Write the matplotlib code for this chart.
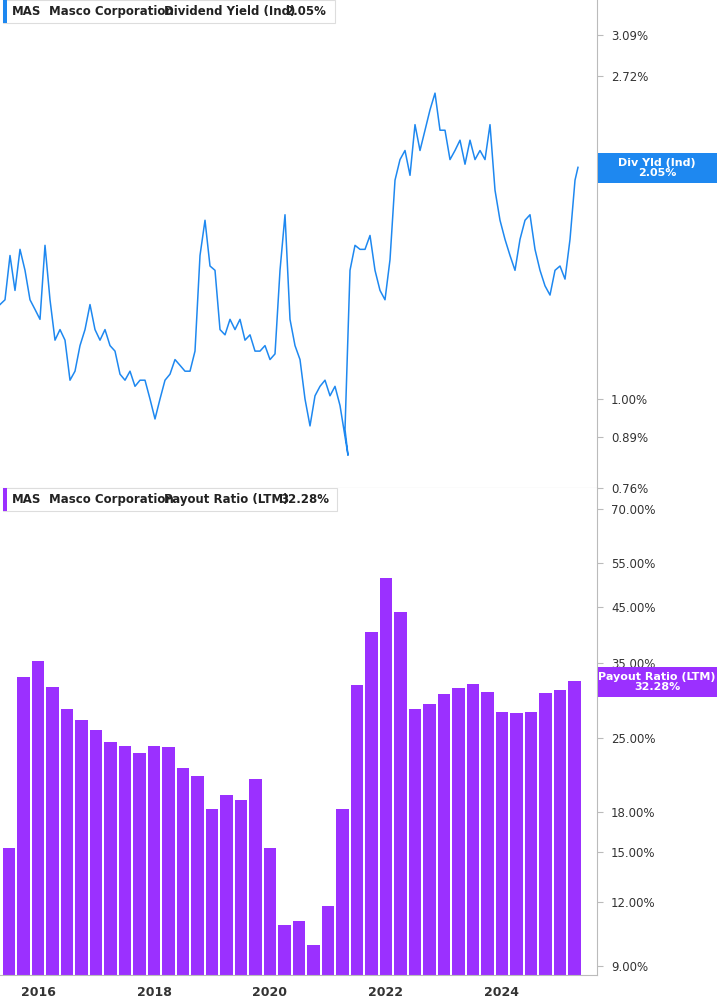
import matplotlib
matplotlib.use("Agg")
import matplotlib.pyplot as plt
import numpy as np

# Dividend yield (%) sampled along time
yld_x = [2015.345 + 5*i/58 for i in range(116)] + [2025.31]
yld_v = [1.34,1.36,1.56,1.40,1.59,1.49,1.36,1.32,1.28,1.61,1.36,1.20,1.24,1.20,1.06,1.09,1.18,1.24,1.34,1.24,
         1.20,1.24,1.18,1.16,1.08,1.06,1.09,1.04,1.06,1.06,1.00,0.94,1.00,1.06,1.08,1.13,1.11,1.09,1.09,1.16,
         1.56,1.74,1.51,1.49,1.24,1.22,1.28,1.24,1.28,1.20,1.22,1.16,1.16,1.18,1.13,1.15,1.49,1.77,1.28,1.18,
         1.13,1.00,0.92,1.01,1.04,1.06,1.01,1.04,0.98,0.91,1.49,1.61,1.59,1.59,1.66,1.49,1.40,1.36,1.54,1.97,
         2.10,2.16,2.00,2.34,2.16,2.30,2.45,2.58,2.30,2.30,2.10,2.16,2.23,2.07,2.23,2.10,2.16,2.10,2.34,1.91,
         1.74,1.64,1.56,1.49,1.64,1.74,1.77,1.59,1.49,1.42,1.38,1.49,1.51,1.45,1.64,1.97,2.05]
yld_v = yld_v[:69] + [0.84] + yld_v[69:]
yld_x = yld_x[:69] + [2015.345 + 348/58] + yld_x[69:]
yld_x = yld_x[:len(yld_v)]

# Payout ratio (%) quarterly
pay_x = [2015.5 + 0.25*i for i in range(40)]
pay_v = [15.3,32.9,35.4,31.5,28.5,27.2,26.0,24.6,24.2,23.4,24.2,24.0,21.9,21.1,18.2,19.4,19.0,20.8,15.3,10.8,
         11.0,9.9,11.8,18.2,31.8,40.3,51.4,44.1,28.5,29.2,30.5,31.4,31.9,30.8,28.2,28.0,28.1,30.7,31.0,32.28]

top_ticks = [0.76,0.89,1.00,2.00,2.72,3.09]
bot_ticks = [9,12,15,18,25,35,45,55,70]
years = [2016,2018,2020,2022,2024]

BLUE = "#1E88F0"
PURP = "#9B30FF"
W, H = 717, 1005
fig = plt.figure(figsize=(W/100, H/100), dpi=100)
x0, x1 = 2015.345, 2025.638
axw = 597/W
ax1 = fig.add_axes([0, 1-488/H, axw, 488/H])
ax2 = fig.add_axes([0, 1-975/H, axw, 487/H])

def setup(ax, ticks, fmt, ylo, yhi):
    ax.set_yscale("log")
    ax.set_ylim(ylo, yhi)
    ax.set_xlim(x0, x1)
    ax.yaxis.tick_right()
    ax.set_yticks(ticks)
    ax.set_yticklabels([fmt % t for t in ticks], fontsize=8.5, color="#333333")
    ax.minorticks_off()
    ax.tick_params(axis="y", length=4, color="#bbbbbb", pad=6)
    for s in ["left", "top"]:
        ax.spines[s].set_visible(False)
    ax.spines["right"].set_color("#bbbbbb")
    ax.spines["bottom"].set_color("#bbbbbb")

ylo1 = 1.0*np.exp(-(488-399)/322.7); yhi1 = 1.0*np.exp(399/322.7)
setup(ax1, top_ticks, "%.2f%%", ylo1, yhi1)
ax1.plot(yld_x, yld_v, color=BLUE, lw=1.1)
ax1.set_xticks([])

ylo2 = 70*np.exp(-(975-509)/222.8); yhi2 = 70*np.exp((509-488)/222.8)
setup(ax2, bot_ticks, "%.2f%%", ylo2, yhi2)
base = ylo2*0.5
ax2.bar(pay_x, [v - base for v in pay_v], width=0.21, color=PURP, bottom=base)
ax2.set_ylim(ylo2, yhi2)
ax2.set_xticks(years)
ax2.set_xticklabels([str(y) for y in years], fontsize=9, fontweight="bold", color="#333333")
ax2.tick_params(axis="x", length=0, pad=8)

def legend(ax, color, parts, xs, right):
    ax.add_patch(plt.Rectangle((3/597, 0.952), (right-3)/597, 0.048, transform=ax.transAxes,
                               facecolor="white", edgecolor="#dddddd", lw=0.8, zorder=5))
    ax.add_patch(plt.Rectangle((3/597, 0.952), 4/597, 0.048, transform=ax.transAxes,
                               facecolor=color, edgecolor="none", zorder=6))
    for p, x in zip(parts, xs):
        ax.text(x/597, 0.976, p, transform=ax.transAxes, fontsize=8.5, fontweight="bold",
                va="center", color="#222222", zorder=7)

legend(ax1, BLUE, ["MAS", "Masco Corporation", "Dividend Yield (Ind)", "2.05%"], [12, 49, 164, 285], 335)
legend(ax2, PURP, ["MAS", "Masco Corporation", "Payout Ratio (LTM)", "32.28%"], [12, 49, 164, 280], 337)

for y, txt, c in [(168, "Div Yld (Ind)\n2.05%", BLUE), (682, "Payout Ratio (LTM)\n32.28%", PURP)]:
    fig.patches.append(plt.Rectangle((598/W, 1-(y+15)/H), 119/W, 30/H, transform=fig.transFigure,
                                     facecolor=c, edgecolor="none", zorder=5))
    fig.text(657/W, 1-y/H, txt, ha="center", va="center", fontsize=8, fontweight="bold",
             color="white", zorder=6, linespacing=1.0)
fig.savefig("out.png", dpi=100)
